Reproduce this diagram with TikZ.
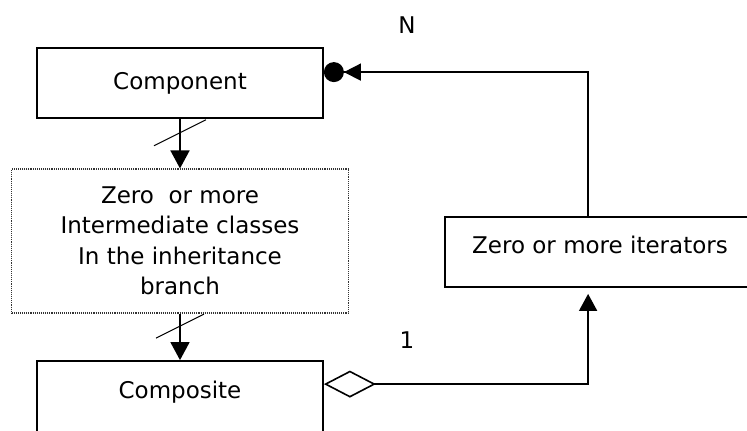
\documentclass[tikz,border=0pt]{standalone}
\usepackage{fontspec}
\setmainfont{DejaVu Sans}
\usetikzlibrary{arrows.meta,calc}
\begin{document}
\begin{tikzpicture}[x=1pt,y=-1pt,
  box/.style={draw, line width=1.8pt, rectangle, inner sep=0pt},
  dotbox/.style={draw=black!80, line width=1.1pt, densely dotted, rectangle, inner sep=0pt},
  lbl/.style={font=\fontsize{23}{30.5}\selectfont, inner sep=0pt, align=center},
  conn/.style={line width=1.6pt},
  slash/.style={line width=1pt},
  gen/.style={conn, -{Triangle[length=18pt,width=19pt]}},
]
\useasboundingbox (0,0) rectangle (747,431);
\clip (0,0) rectangle (747,431);

% classes
\node[box, lbl, minimum width=286, minimum height=70] (comp) at (180,83) {Component};
\node[dotbox, lbl, minimum width=337, minimum height=144] (mid) at (180,241)
  {Zero\ \ or more\\Intermediate classes\\In the inheritance\\branch};
\node[box, minimum width=286, minimum height=80] (compo) at (180,401) {};
\node[lbl] (compot) at (180,392) {Composite};
\node[box, minimum width=320, minimum height=70] (iter) at (605,252) {};
\node[lbl] (itert) at (600,245) {Zero or more iterators};

% multiplicities
\node[lbl] (nlab) at (407,25) {N};
\node[lbl] (onelab) at (407,340) {1};

% inheritance chain
\draw[gen] (comp.south) -- (mid.north);
\draw[slash] ($(comp.south)!0.28!(mid.north)$) +(-26,13) -- +(26,-13);
\draw[gen] (mid.south) -- (compo.north);
\draw[slash] ($(mid.south)!0.27!(compo.north)$) +(-24,12) -- +(24,-12);

% aggregation of iterators
\coordinate (aggstart) at ($(compo.north east)+(0,24)$);
\coordinate (iterin) at ($(iter.south west)+(144,0)$);
\draw[conn, {Diamond[open,length=52pt,width=27pt]}-{Triangle[length=17pt,width=18pt]}, shorten >=6pt]
  (aggstart) -| (iterin);

% navigation back to the components
\coordinate (iterout) at ($(iter.north west)+(144,0)$);
\coordinate (compin) at ($(comp.north east)+(0,25)$);
\draw[conn, -{Triangle[length=17pt,width=17pt] Circle[length=20pt]}]
  (iterout) |- (compin);
\end{tikzpicture}
\end{document}
